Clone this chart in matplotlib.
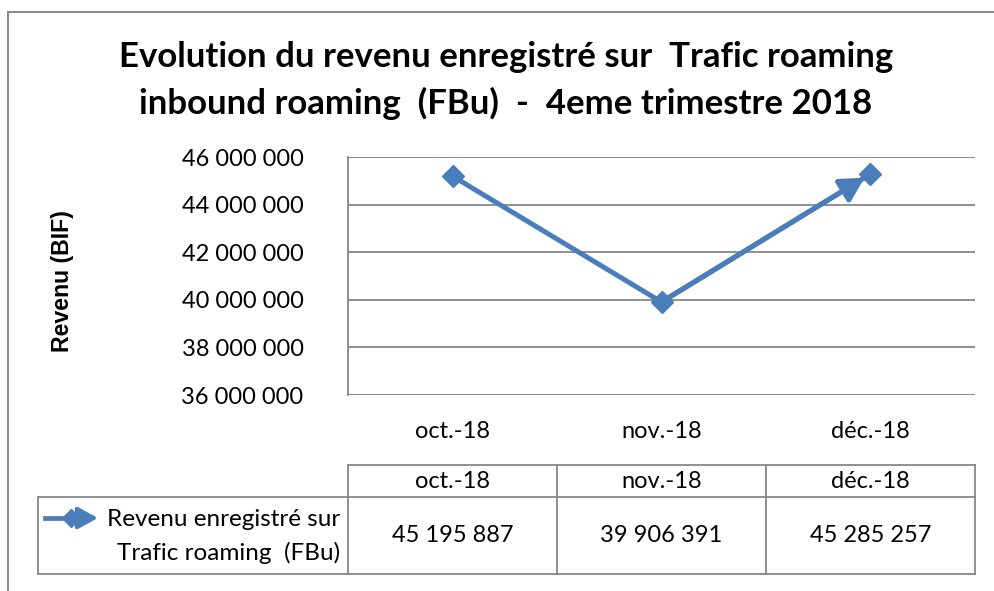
import matplotlib
matplotlib.use("Agg")
import matplotlib.pyplot as plt
from matplotlib.lines import Line2D
from matplotlib.patches import Rectangle
from matplotlib.ticker import FuncFormatter, MultipleLocator
import matplotlib.transforms as mtransforms

# ---- data ----
categories = ["oct.-18", "nov.-18", "déc.-18"]
revenue = [45195887, 39906391, 45285257]
series_name = "Revenu enregistré sur\nTrafic roaming  (FBu)"
title = "Evolution du revenu enregistré sur  Trafic roaming\ninbound roaming  (FBu)  -  4eme trimestre 2018"
ylabel = "Revenu (BIF)"
y_min, y_max, y_step = 36000000, 46000000, 2000000

W, H = 994, 591
DPI = 100
FONT = "Lato"
BLUE = "#4A7EBB"
GRID = "#878787"

def fmt(v):
    return f"{int(v):,}".replace(",", " ")

fig = plt.figure(figsize=(W / DPI, H / DPI), dpi=DPI)
fig.patch.set_facecolor("white")

def fx(px):
    return px / W

def fy(py):
    return 1 - py / H

# outer frame
fig.add_artist(Rectangle((fx(8), fy(700)), fx(1100), (700 - 12) / H,
                         transform=fig.transFigure, fill=False,
                         edgecolor="#8C8C8C", lw=1.5))

# plot area
L, R, T, B = 348, 975, 157, 395
ax = fig.add_axes([fx(L), fy(B), fx(R - L), (B - T) / H])
ax.set_xlim(-0.5, len(categories) - 0.5)
ax.set_ylim(y_min, y_max)
ax.yaxis.set_major_locator(MultipleLocator(y_step))
ax.yaxis.set_major_formatter(FuncFormatter(lambda v, p: fmt(v)))
ax.grid(axis="y", color=GRID, lw=1.3)
ax.set_axisbelow(True)
for s in ["top", "right", "bottom"]:
    ax.spines[s].set_visible(False)
ax.spines["left"].set_color(GRID)
ax.spines["left"].set_linewidth(1.3)
ax.tick_params(axis="y", length=0, pad=32, labelsize=17)
ax.tick_params(axis="x", length=0, labelbottom=False)
for lab in ax.get_yticklabels():
    lab.set_fontfamily(FONT)

xs = list(range(len(categories)))
ax.plot(xs, revenue, color=BLUE, lw=3.6, marker="D", ms=11,
        markerfacecolor=BLUE, markeredgecolor=BLUE, clip_on=False, zorder=3)
ax.annotate("", xy=(xs[-1], revenue[-1]), xytext=(xs[-2], revenue[-2]),
            arrowprops=dict(arrowstyle="-|>,head_length=1.1,head_width=0.6",
                            mutation_scale=13, color=BLUE, lw=3.6,
                            shrinkA=0, shrinkB=5),
            zorder=4)

# category labels below plot
blend = mtransforms.blended_transform_factory(ax.transData, fig.transFigure)
for i, c in enumerate(categories):
    ax.text(i, fy(432), c, transform=blend, ha="center", va="center",
            fontsize=17, family=FONT)

# title
t1, t2 = title.split("\n")
fig.text(fx(506), fy(57), t1, ha="center", va="center",
         fontsize=25, fontweight="bold", family=FONT)
fig.text(fx(506), fy(103), t2, ha="center", va="center",
         fontsize=25, fontweight="bold", family=FONT)

# y label
fig.text(fx(62), fy(281), ylabel, rotation=90, ha="center", va="center",
         fontsize=16.7, fontweight="bold", family="Liberation Sans")

# data table
TL = 38
hdr_top, hdr_bot, row_bot = 465, 497, 574
col_w = (R - L) / len(categories)
cols = [L + i * col_w for i in range(len(categories) + 1)]

def hline(x0, x1, y):
    fig.add_artist(Line2D([fx(x0), fx(x1)], [fy(y), fy(y)], color=GRID, lw=1.3,
                          transform=fig.transFigure))

def vline(x, y0, y1):
    fig.add_artist(Line2D([fx(x), fx(x)], [fy(y0), fy(y1)], color=GRID, lw=1.3,
                          transform=fig.transFigure))

hline(L, R, hdr_top)
hline(TL, R, hdr_bot)
hline(TL, R, row_bot)
vline(TL, hdr_bot, row_bot)
for cx in cols:
    vline(cx, hdr_top, row_bot)

for i, c in enumerate(categories):
    cxm = (cols[i] + cols[i + 1]) / 2
    fig.text(fx(cxm), fy((hdr_top + hdr_bot) / 2), c, ha="center", va="center",
             fontsize=17, family=FONT)
    fig.text(fx(cxm), fy((hdr_bot + row_bot) / 2), fmt(revenue[i]), ha="center",
             va="center", fontsize=17, family=FONT)

l1, l2 = series_name.split("\n")
fig.text(fx(340), fy(519), l1, ha="right", va="center", fontsize=17.5, family=FONT)
fig.text(fx(340), fy(553), l2, ha="right", va="center", fontsize=17.5, family=FONT)

# legend key
fig.add_artist(Line2D([fx(45), fx(86)], [fy(518), fy(518)], color=BLUE, lw=3.4,
                      transform=fig.transFigure))
fig.add_artist(Line2D([fx(71)], [fy(518)], color=BLUE, marker="D", ms=9,
                      transform=fig.transFigure))
ax.annotate("", xy=(fx(98), fy(518)), xytext=(fx(82), fy(518)),
            xycoords=fig.transFigure, textcoords=fig.transFigure,
            annotation_clip=False,
            arrowprops=dict(arrowstyle="-|>,head_length=1.1,head_width=0.6",
                            mutation_scale=11, color=BLUE, lw=3.0,
                            shrinkA=0, shrinkB=0))

fig.savefig("out.png", dpi=DPI, facecolor="white")
